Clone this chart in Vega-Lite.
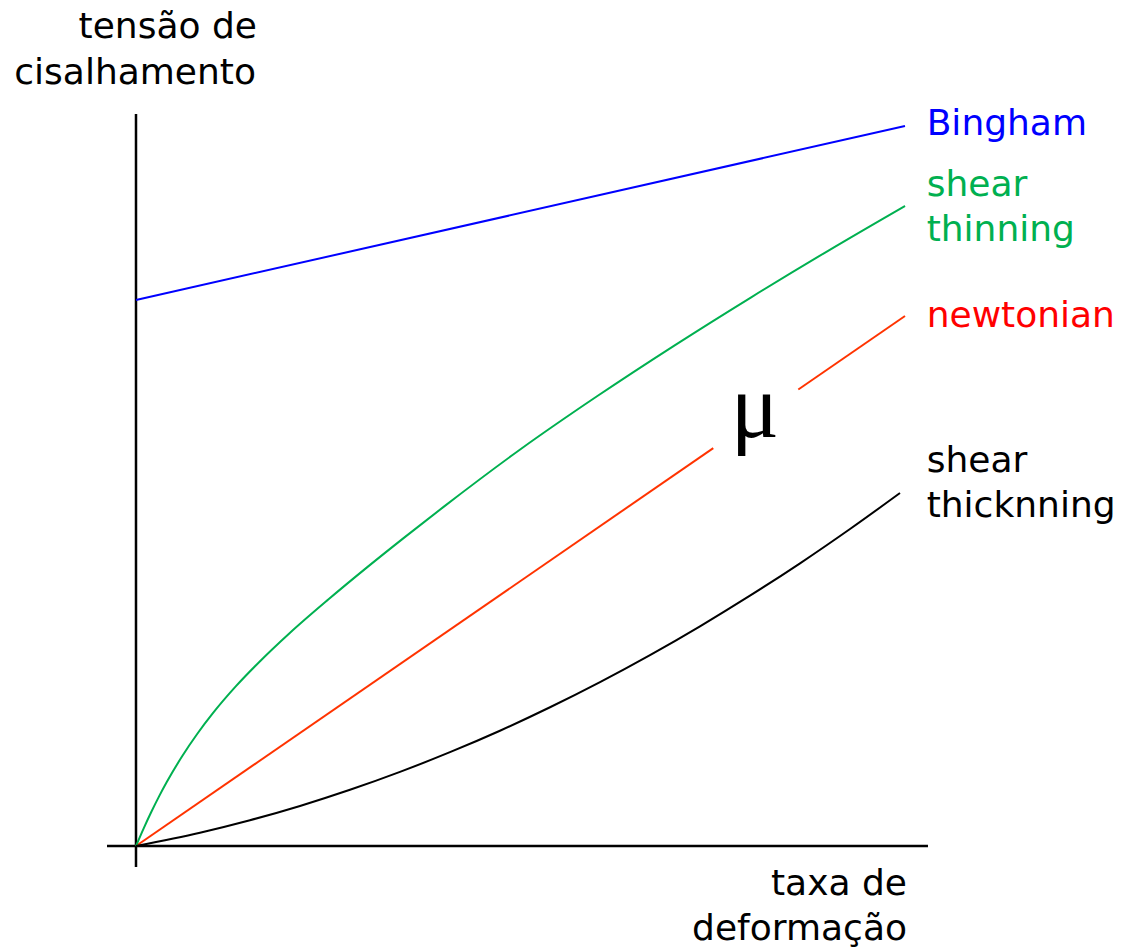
{
  "$schema": "https://vega.github.io/schema/vega-lite/v6.json",
  "width": 1130,
  "height": 949,
  "padding": 0,
  "autosize": {"type": "none"},
  "background": "white",
  "config": {"view": {"stroke": null}},
  "datasets": {
    "axes": [
      {"axis": "taxa", "x": -3.77, "y": 0, "x2": 102.99, "y2": 0},
      {"axis": "tensao", "x": 0, "y": -2.73, "x2": 0, "y2": 95.19}
    ],
    "curves": [
      {"series": "Bingham", "seg": "b", "x": 0, "y": 71.0},
      {"series": "Bingham", "seg": "b", "x": 100, "y": 93.63},
      {"series": "newtonian", "seg": "n1", "x": 0, "y": 0},
      {"series": "newtonian", "seg": "n1", "x": 75.07, "y": 51.74},
      {"series": "newtonian", "seg": "n2", "x": 86.13, "y": 59.36},
      {"series": "newtonian", "seg": "n2", "x": 100, "y": 68.92},
      {"series": "thinning", "seg": "t", "x": 0, "y": 0},
      {"series": "thinning", "seg": "t", "x": 1, "y": 2.3},
      {"series": "thinning", "seg": "t", "x": 2, "y": 4.45},
      {"series": "thinning", "seg": "t", "x": 3, "y": 6.45},
      {"series": "thinning", "seg": "t", "x": 4, "y": 8.31},
      {"series": "thinning", "seg": "t", "x": 6, "y": 11.67},
      {"series": "thinning", "seg": "t", "x": 8, "y": 14.63},
      {"series": "thinning", "seg": "t", "x": 10, "y": 17.27},
      {"series": "thinning", "seg": "t", "x": 13, "y": 20.78},
      {"series": "thinning", "seg": "t", "x": 16, "y": 23.9},
      {"series": "thinning", "seg": "t", "x": 20, "y": 27.7},
      {"series": "thinning", "seg": "t", "x": 25, "y": 32.05},
      {"series": "thinning", "seg": "t", "x": 30, "y": 36.2},
      {"series": "thinning", "seg": "t", "x": 35, "y": 40.2},
      {"series": "thinning", "seg": "t", "x": 40, "y": 44.1},
      {"series": "thinning", "seg": "t", "x": 50, "y": 51.59},
      {"series": "thinning", "seg": "t", "x": 60, "y": 58.51},
      {"series": "thinning", "seg": "t", "x": 70, "y": 65.07},
      {"series": "thinning", "seg": "t", "x": 80, "y": 71.35},
      {"series": "thinning", "seg": "t", "x": 90, "y": 77.4},
      {"series": "thinning", "seg": "t", "x": 100, "y": 83.23},
      {"series": "thickening", "seg": "k", "x": 0, "y": 0},
      {"series": "thickening", "seg": "k", "x": 8.32, "y": 1.73},
      {"series": "thickening", "seg": "k", "x": 14.82, "y": 3.35},
      {"series": "thickening", "seg": "k", "x": 21.33, "y": 5.21},
      {"series": "thickening", "seg": "k", "x": 27.83, "y": 7.31},
      {"series": "thickening", "seg": "k", "x": 34.33, "y": 9.64},
      {"series": "thickening", "seg": "k", "x": 40.83, "y": 12.2},
      {"series": "thickening", "seg": "k", "x": 47.33, "y": 14.99},
      {"series": "thickening", "seg": "k", "x": 53.84, "y": 18.04},
      {"series": "thickening", "seg": "k", "x": 60.34, "y": 21.31},
      {"series": "thickening", "seg": "k", "x": 66.84, "y": 24.82},
      {"series": "thickening", "seg": "k", "x": 73.34, "y": 28.57},
      {"series": "thickening", "seg": "k", "x": 79.84, "y": 32.55},
      {"series": "thickening", "seg": "k", "x": 86.35, "y": 36.76},
      {"series": "thickening", "seg": "k", "x": 92.85, "y": 41.22},
      {"series": "thickening", "seg": "k", "x": 99.35, "y": 45.9}
    ],
    "labels_right": [
      {"text": "Bingham", "series": "Bingham", "x": 102.82, "y": 92.46},
      {"text": "shear", "series": "thinning", "x": 102.82, "y": 84.53},
      {"text": "thinning", "series": "thinning", "x": 102.82, "y": 78.67},
      {"text": "newtonian", "series": "newtonian", "x": 102.82, "y": 67.49},
      {"text": "shear", "series": "thickening", "x": 102.82, "y": 48.63},
      {"text": "thicknning", "series": "thickening", "x": 102.82, "y": 42.78}
    ],
    "labels_axes": [
      {"text": "tensão de", "x": 15.73, "y": 105.07},
      {"text": "cisalhamento", "x": 15.6, "y": 99.09},
      {"text": "taxa de", "x": 100.26, "y": -6.37},
      {"text": "deformação", "x": 100.26, "y": -12.22}
    ],
    "mu": [
      {"text": "μ", "x": 80.49, "y": 53.19}
    ]
  },
  "encoding": {
    "x": {"field": "x", "type": "quantitative", "scale": {"domain": [-17.685, 129.26], "nice": false, "zero": false}, "axis": null},
    "y": {"field": "y", "type": "quantitative", "scale": {"domain": [-13.394, 110.01], "nice": false, "zero": false}, "axis": null}
  },
  "layer": [
    {
      "data": {"name": "axes"},
      "mark": {"type": "rule", "strokeWidth": 2.5, "color": "#000000"},
      "encoding": {
        "x2": {"field": "x2"},
        "y2": {"field": "y2"}
      }
    },
    {
      "data": {"name": "curves"},
      "mark": {"type": "line", "strokeWidth": 2, "interpolate": "monotone"},
      "encoding": {
        "detail": {"field": "seg", "type": "nominal"},
        "order": {"field": "x", "type": "quantitative"},
        "color": {
          "field": "series", "type": "nominal", "legend": null,
          "scale": {"domain": ["Bingham", "thinning", "newtonian", "thickening"], "range": ["#0000FF", "#00B050", "#FF3300", "#000000"]}
        }
      }
    },
    {
      "data": {"name": "labels_right"},
      "mark": {"type": "text", "align": "left", "baseline": "alphabetic", "font": "DejaVu Sans", "fontSize": 36},
      "encoding": {
        "text": {"field": "text"},
        "color": {
          "field": "series", "type": "nominal", "legend": null,
          "scale": {"domain": ["Bingham", "thinning", "newtonian", "thickening"], "range": ["#0000FF", "#00B050", "#FF0000", "#000000"]}
        }
      }
    },
    {
      "data": {"name": "labels_axes"},
      "mark": {"type": "text", "align": "right", "baseline": "alphabetic", "font": "DejaVu Sans", "fontSize": 36, "color": "#000000"},
      "encoding": {
        "text": {"field": "text"}
      }
    },
    {
      "data": {"name": "mu"},
      "mark": {"type": "text", "align": "center", "baseline": "alphabetic", "font": "Liberation Serif", "fontSize": 90, "color": "#000000"},
      "encoding": {
        "text": {"field": "text"}
      }
    }
  ],
  "resolve": {"scale": {"color": "independent"}}
}
